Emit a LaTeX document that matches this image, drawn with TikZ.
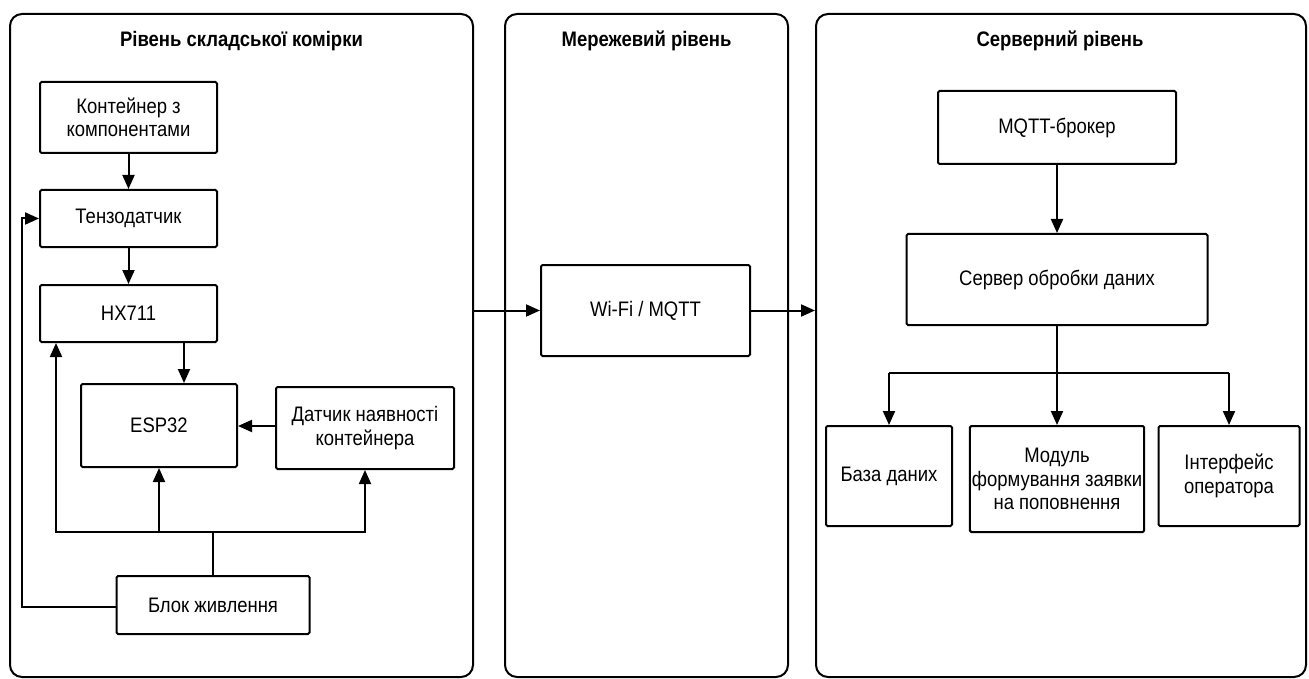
\documentclass[tikz,border=0pt]{standalone}
\usepackage{fontspec}
\setmainfont{Liberation Sans}[FakeStretch=0.88]
\usetikzlibrary{arrows.meta}
\tikzset{
  panel/.style={draw, line width=2pt, rounded corners=12pt, inner sep=0pt},
  blk/.style={draw, line width=2pt, rounded corners=1.5pt, align=center, inner sep=2pt,
    font=\fontsize{21}{23.5}\selectfont},
  ttl/.style={font=\fontsize{21}{24}\selectfont\bfseries},
  arr/.style={line width=2pt, -{Triangle[length=14pt,width=12pt]}},
  ln/.style={line width=2pt},
}
\begin{document}
\begin{tikzpicture}[x=1pt,y=-1pt]
\useasboundingbox (0,0) rectangle (1309,679);
% panels
\node[panel, minimum width=463pt, minimum height=663pt] (pl) at (241.5,345.5) {};
\node[panel, minimum width=283pt, minimum height=663pt] (pm) at (646.5,345.5) {};
\node[panel, minimum width=490pt, minimum height=663pt] (pr) at (1061,345.5) {};
\node[ttl] (tl) at (241.5,41) {Рівень складської комірки};
\node[ttl] (tm) at (646.5,41) {Мережевий рівень};
\node[ttl] (tr) at (1060,41) {Серверний рівень};
% left blocks
\node[blk, minimum width=177pt, minimum height=71pt] (cont) at (128.5,117.5) {Контейнер з\\компонентами};
\node[blk, minimum width=177pt, minimum height=57pt] (tenz) at (128.5,218.5) {Тензодатчик};
\node[blk, minimum width=177pt, minimum height=57pt] (hx) at (128.5,313.5) {HX711};
\node[blk, minimum width=156pt, minimum height=83pt] (esp) at (159,425.5) {ESP32};
\node[blk, minimum width=178pt, minimum height=82pt] (dat) at (365,428) {Датчик наявності\\контейнера};
\node[blk, minimum width=193pt, minimum height=58pt] (blok) at (213,605) {Блок живлення};
% middle
\node[blk, minimum width=209pt, minimum height=91pt] (wifi) at (645.5,310.5) {Wi-Fi / MQTT};
% right
\node[blk, minimum width=238pt, minimum height=73pt] (mqtt) at (1057,127.5) {MQTT-брокер};
\node[blk, minimum width=301pt, minimum height=91pt] (serv) at (1057,279.5) {Сервер обробки даних};
\node[blk, minimum width=126pt, minimum height=100pt] (db) at (889,476) {База даних};
\node[blk, minimum width=171pt, minimum height=106pt] (mod) at (1057,479) {Модуль\\формування заявки\\на поповнення};
\node[blk, minimum width=141pt, minimum height=100pt] (ui) at (1229,476) {Інтерфейс\\оператора};
% left connectors
\draw[arr] (cont) -- (tenz);
\draw[arr] (tenz) -- (hx);
\draw[arr] (hx.south -| 184,0) -- (esp.north -| 184,0);
\draw[arr] (dat.west |- 0,426) -- (esp.east |- 0,426);
\coordinate (bus) at (213,532);
\coordinate (busL) at (56,532);
\coordinate (busR) at (365,532);
\coordinate (loop) at (22,607);
\draw[ln] (blok.north) -- (bus);
\draw[arr] (bus) -- (busL) -- (busL |- hx.south);
\draw[arr] (bus) -- (busR) -- (dat.south);
\draw[arr] (esp.south |- bus) -- (esp.south);
\draw[arr] (blok.west |- loop) -- (loop) |- (tenz.west);
% between panels
\draw[arr] (pl.east |- wifi) -- (wifi.west);
\draw[arr] (wifi.east) -- (pr.west |- wifi);
% right connectors
\coordinate (br) at (1057,373);
\draw[arr] (mqtt) -- (serv);
\draw[arr] (serv.south) -- (mod.north);
\draw[ln] (db.north |- br) -- (ui.north |- br);
\draw[arr] (db.north |- br) -- (db.north);
\draw[arr] (ui.north |- br) -- (ui.north);
\end{tikzpicture}
\end{document}
